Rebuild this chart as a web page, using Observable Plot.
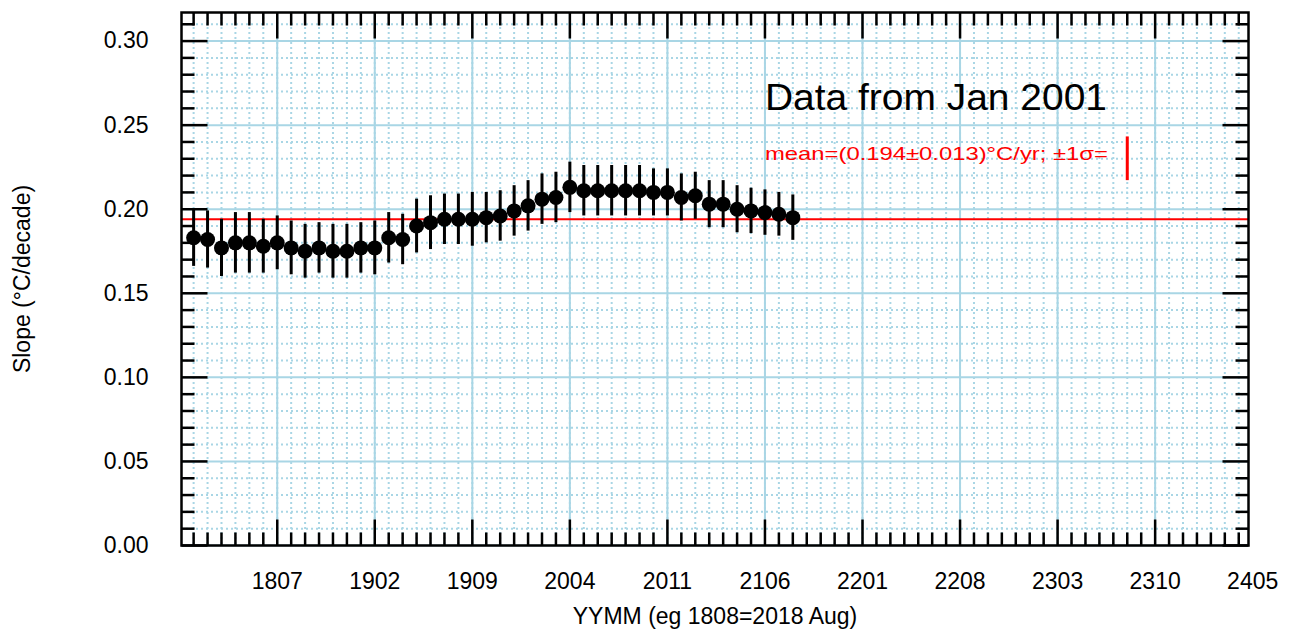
<!DOCTYPE html>
<html><head><meta charset="utf-8">
<script src="https://cdn.jsdelivr.net/npm/d3@7"></script>
<script src="https://cdn.jsdelivr.net/npm/@observablehq/plot@0.6"></script>
<style>body{margin:0;background:#fff}</style>
</head><body><div id="chart"></div>
<script>
// ---- data ----
const endMonths = ["1801","1802","1803","1804","1805","1806","1807","1808","1809","1810","1811","1812",
  "1901","1902","1903","1904","1905","1906","1907","1908","1909","1910","1911","1912",
  "2001","2002","2003","2004","2005","2006","2007","2008","2009","2010","2011","2012",
  "2101","2102","2103","2104","2105","2106","2107","2108"];
const slopes = [0.183,0.182,0.177,0.180,0.180,0.178,0.180,0.177,0.175,0.177,0.175,0.175,
  0.177,0.177,0.183,0.182,0.190,0.192,0.194,0.194,0.194,0.195,0.196,0.199,
  0.202,0.206,0.207,0.213,0.211,0.211,0.211,0.211,0.211,0.210,0.210,0.207,
  0.208,0.203,0.203,0.200,0.199,0.198,0.197,0.195];
const errors = [0.017,0.017,0.017,0.018,0.018,0.016,0.016,0.016,0.016,0.015,0.016,0.016,
  0.015,0.016,0.015,0.015,0.016,0.016,0.015,0.015,0.016,0.015,0.015,0.015,
  0.015,0.015,0.015,0.015,0.015,0.015,0.015,0.015,0.015,0.014,0.014,0.014,
  0.014,0.014,0.014,0.014,0.0135,0.0135,0.013,0.0135];
const xTickLabels = ["1807","1902","1909","2004","2011","2106","2201","2208","2303","2310","2405"];
const yTickValues = [0.00,0.05,0.10,0.15,0.20,0.25,0.30];
const meanSlope = 0.194;
const meanErr = 0.013;
const titleText = "Data from Jan 2001";
const xLabel = "YYMM (eg 1808=2018 Aug)";
const yLabel = "Slope (\u00B0C/decade)";

// ---- helpers ----
const toIdx = s => (+s.slice(0,2) - 18) * 12 + (+s.slice(2) - 1);
const points = endMonths.map((ym, i) => ({m: toIdx(ym), v: slopes[i], e: errors[i]}));
const xDomain = [-0.87, 75.7];
const yDomain = [0, 0.317];
const inX = v => v >= xDomain[0] && v <= xDomain[1];
const majorX = xTickLabels.map(toIdx);
const majorXin = majorX.filter(inX);
const allMonths = d3.range(Math.ceil(xDomain[0]), Math.floor(xDomain[1]) + 1);
const minorX = allMonths.filter(v => !majorX.includes(v));
const minorY = d3.range(0, 32).map(i => i / 100).filter(v => v <= yDomain[1] && Math.round(v * 100) % 5 !== 0);
const majorY = yTickValues;
const labelOf = new Map(xTickLabels.map(s => [toIdx(s), s]));

const grid = "#a9d6e5";
const tickShape = {draw(ctx, l) { ctx.moveTo(0, 0); ctx.lineTo(0, -l); }};
const tk = (opts) => ({anchor: "start", shape: tickShape, stroke: "black", strokeWidth: 2.5, strokeLinecap: "butt", ...opts});

const chart = Plot.plot({
  width: 1289, height: 637,
  marginLeft: 181, marginRight: 41, marginTop: 12, marginBottom: 92,
  style: {fontFamily: "'Liberation Sans', Arial, sans-serif", fontSize: "23px", background: "white", color: "black"},
  x: {domain: xDomain},
  y: {domain: yDomain},
  marks: [
    Plot.ruleX(allMonths, {stroke: grid, strokeWidth: 2, strokeDasharray: "2,3"}),
    Plot.ruleY(minorY, {stroke: grid, strokeWidth: 2, strokeDasharray: "2,3"}),
    Plot.ruleX(majorXin, {stroke: grid, strokeWidth: 2}),
    Plot.ruleY(majorY, {stroke: grid, strokeWidth: 2}),
    Plot.ruleY([meanSlope], {stroke: "red", strokeWidth: 2}),
    Plot.ruleX(points, {x: "m", y1: d => d.v - d.e, y2: d => d.v + d.e, stroke: "black", strokeWidth: 3}),
    Plot.dot(points, {x: "m", y: "v", r: 7.5, fill: "black", stroke: null}),
    Plot.text([titleText], {x: 41, y: 0.259, text: d => d, textAnchor: "start", lineAnchor: "bottom", fontSize: 36, fill: "black"}),
    Plot.text([`mean=(${meanSlope.toFixed(3)}\u00B1${meanErr.toFixed(3)})\u00B0C/yr; \u00B11\u03C3=`],
      {x: 41, y: 0.229, text: d => d, textAnchor: "start", lineAnchor: "bottom", fontSize: 19, fill: "red"}),
    Plot.ruleX([67], {y1: 0.23 - meanErr, y2: 0.23 + meanErr, stroke: "red", strokeWidth: 3}),
    Plot.frame({stroke: "black", strokeWidth: 2.5}),
    // inward ticks on all four sides
    Plot.vectorX(minorX.filter(inX), tk({x: d => d, frameAnchor: "bottom", length: 13, rotate: 0})),
    Plot.vectorX(majorXin, tk({x: d => d, frameAnchor: "bottom", length: 26, rotate: 0})),
    Plot.vectorX(minorX.filter(inX), tk({x: d => d, frameAnchor: "top", length: 13, rotate: 180})),
    Plot.vectorX(majorXin, tk({x: d => d, frameAnchor: "top", length: 26, rotate: 180})),
    Plot.vectorY(minorY, tk({y: d => d, frameAnchor: "left", length: 13, rotate: 90})),
    Plot.vectorY(majorY, tk({y: d => d, frameAnchor: "left", length: 26, rotate: 90})),
    Plot.vectorY(minorY, tk({y: d => d, frameAnchor: "right", length: 13, rotate: -90})),
    Plot.vectorY(majorY, tk({y: d => d, frameAnchor: "right", length: 26, rotate: -90})),
    Plot.axisX(majorX, {tickSize: 0, tickPadding: 27, tickFormat: d => labelOf.get(d), fontSize: 23,
      label: xLabel, labelAnchor: "center", labelArrow: "none", labelOffset: 78}),
    Plot.axisY(majorY, {tickSize: 0, tickPadding: 33, tickFormat: d => d.toFixed(2), fontSize: 23,
      label: yLabel, labelAnchor: "center", labelArrow: "none", labelOffset: 168})
  ]
});
document.getElementById("chart").appendChild(chart);
// stretch the annotation texts to the reference width
for (const t of chart.querySelectorAll("text")) {
  if (t.textContent === titleText) { t.setAttribute("textLength", 342); t.setAttribute("lengthAdjust", "spacingAndGlyphs"); }
  if (t.textContent.startsWith("mean=")) { t.setAttribute("textLength", 343); t.setAttribute("lengthAdjust", "spacingAndGlyphs"); }
}
</script>
</body></html>
